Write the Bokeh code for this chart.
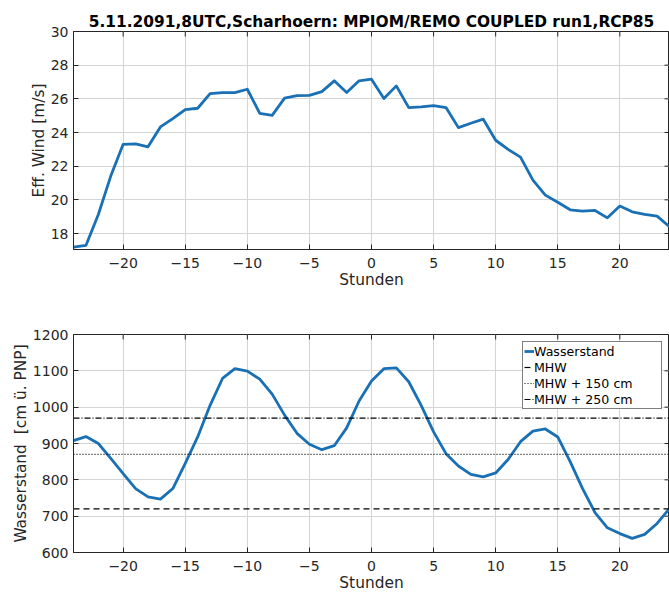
import math
from bokeh.plotting import figure
from bokeh.layouts import column
from bokeh.models import Range1d, FixedTicker, Legend, LegendItem, Title
from bokeh.embed import file_html
from bokeh.resources import INLINE

# Hourly values around the storm peak (hours relative to 5.11.2091, 8 UTC)
hours = list(range(-24, 25))
wind = [17.19, 17.29, 19.13, 21.41, 23.30, 23.33, 23.15, 24.33, 24.82, 25.36,
        25.44, 26.31, 26.37, 26.37, 26.57, 25.14, 25.02, 26.04, 26.19, 26.21,
        26.43, 27.07, 26.37, 27.07, 27.17, 26.02, 26.77, 25.48, 25.52, 25.60,
        25.48, 24.29, 24.55, 24.79, 23.54, 23.00, 22.54, 21.17, 20.28, 19.86,
        19.41, 19.33, 19.37, 18.93, 19.63, 19.29, 19.13, 19.03, 18.40]
water = [908, 919, 900, 859, 817, 776, 753, 747, 776, 845,
         918, 1005, 1079, 1106, 1099, 1077, 1036, 978, 928, 898,
         883, 894, 943, 1017, 1072, 1106, 1108, 1070, 1005, 932,
         872, 838, 815, 808, 819, 856, 905, 934, 940, 918,
         850, 776, 710, 668, 652, 639, 650, 680, 721]

mhw = 720
mhw_offsets = [150, 250]

x_ticks = [-20, -15, -10, -5, 0, 5, 10, 15, 20]
wind_ticks = [18, 20, 22, 24, 26, 28, 30]
water_ticks = [600, 700, 800, 900, 1000, 1100, 1200]

title_text = "5.11.2091,8UTC,Scharhoern: MPIOM/REMO COUPLED run1,RCP85"

FONT = "DejaVu Sans"
AX = "#262626"
GRID = "#d4d4d4"
BLUE = "#1a70b5"


def make_axes(height, top, frame_h, yrange, yticks, ylabel):
    p = figure(width=669, height=height, frame_width=596, frame_height=frame_h,
               min_border_left=73, min_border_right=0, min_border_top=top,
               min_border_bottom=height - top - frame_h,
               x_range=Range1d(hours[0], hours[-1]), y_range=Range1d(*yrange),
               toolbar_location=None, output_backend="svg")
    p.background_fill_color = "white"
    p.border_fill_color = "white"
    p.outline_line_color = AX
    p.outline_line_width = 1
    p.xaxis.ticker = FixedTicker(ticks=x_ticks)
    p.yaxis.ticker = FixedTicker(ticks=yticks)
    p.xgrid.ticker = FixedTicker(ticks=x_ticks)
    p.ygrid.ticker = FixedTicker(ticks=yticks)
    p.grid.grid_line_color = GRID
    p.grid.grid_line_width = 1
    p.xaxis.axis_label = "Stunden"
    p.yaxis.axis_label = ylabel
    for ax in list(p.xaxis) + list(p.yaxis):
        ax.axis_line_color = AX
        ax.major_tick_line_color = AX
        ax.major_tick_in = 5
        ax.major_tick_out = 0
        ax.minor_tick_line_color = None
        ax.major_label_text_font = FONT
        ax.major_label_text_font_size = "14px"
        ax.major_label_text_color = AX
        ax.axis_label_text_font = FONT
        ax.axis_label_text_font_size = "15.4px"
        ax.axis_label_text_font_style = "normal"
        ax.axis_label_text_color = AX
    p.xaxis.major_label_standoff = 8
    p.xaxis.axis_label_standoff = 0
    p.yaxis.major_label_standoff = 5
    p.yaxis.axis_label_standoff = 0
    # inward tick marks along the top and right edges of the box
    top_y = [yrange[1]] * len(x_ticks)
    right_x = [hours[-1]] * len(yticks)
    p.scatter(x_ticks, top_y, marker="dash", size=10, angle=math.pi / 2,
              line_color=AX, line_width=1)
    p.scatter(right_x, yticks, marker="dash", size=10,
              line_color=AX, line_width=1)
    return p


# Upper panel: effective wind
p1 = make_axes(300, 31, 218, (17.05, 30), wind_ticks, "Eff. Wind [m/s]")
p1.add_layout(Title(text=title_text, align="center", text_font=FONT,
                    text_font_size="15.4px", text_font_style="bold",
                    text_color="black", standoff=2), "above")
p1.line(hours, wind, line_color=BLUE, line_width=2.8, line_join="round")

# Lower panel: water level with MHW reference lines
p2 = make_axes(292, 34, 218, (600, 1200), water_ticks,
               "Wasserstand\u00a0 [cm ü. PNP]")
xs = [hours[0], hours[-1]]
r_w = p2.line(hours, water, line_color=BLUE, line_width=2.8, line_join="round")
r_m = p2.line(xs, [mhw, mhw], line_color="black", line_width=1.2, line_dash="6 4")
r_150 = p2.line(xs, [mhw + mhw_offsets[0]] * 2, line_color="black", line_width=1.2,
                line_dash="1 2")
r_250 = p2.line(xs, [mhw + mhw_offsets[1]] * 2, line_color="black", line_width=1.2,
                line_dash="6 2 1 2")

legend = Legend(items=[
    LegendItem(label="Wasserstand", renderers=[r_w]),
    LegendItem(label="MHW", renderers=[r_m]),
    LegendItem(label="MHW + 150 cm", renderers=[r_150]),
    LegendItem(label="MHW + 250 cm", renderers=[r_250]),
], location=(449, 143))
legend.padding = 1
legend.spacing = 0
legend.margin = 0
legend.glyph_width = 10
legend.glyph_height = 16
legend.label_height = 16
legend.label_width = 126
legend.label_standoff = 0
legend.label_text_font = FONT
legend.label_text_font_size = "12.6px"
legend.label_text_color = "black"
legend.border_line_color = "black"
legend.border_line_width = 1
legend.background_fill_color = "white"
legend.background_fill_alpha = 1
p2.add_layout(legend, "center")

layout = column(p1, p2, spacing=0)
open("out.html", "w").write(file_html(layout, INLINE))
